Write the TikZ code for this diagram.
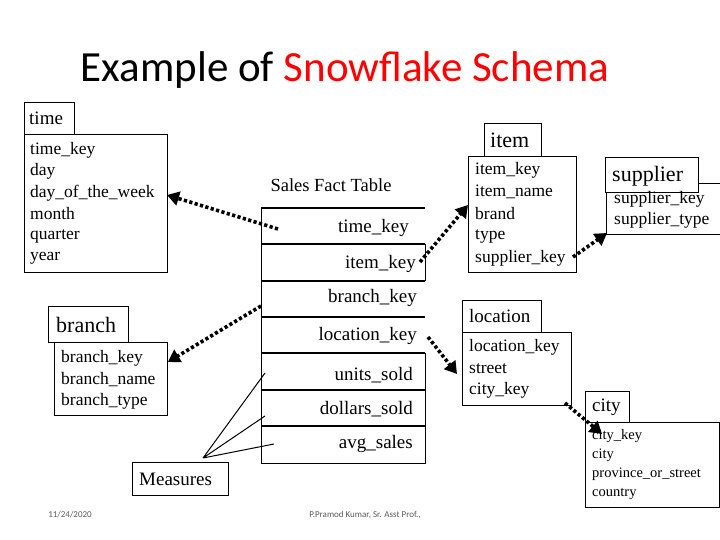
\documentclass[tikz,border=0pt]{standalone}
\usepackage{fontspec}
\setmainfont{Liberation Serif}
\newfontfamily\titlefont{Carlito}
\usetikzlibrary{arrows.meta}
\begin{document}
\begin{tikzpicture}[x=1pt,y=-1pt,
 box/.style={draw,line width=0.8pt,inner sep=0pt,anchor=north west},
 txt/.style={anchor=west,inner sep=0pt,font=\fontsize{17.5}{17.5}\selectfont},
 stxt/.style={anchor=west,inner sep=0pt,font=\fontsize{14.5}{14.5}\selectfont},
 ftxt/.style={anchor=east,inner sep=0pt,font=\fontsize{19}{19}\selectfont},
 link/.style={line width=3.6pt,dash pattern=on 3.2pt off 2.4pt,-{Triangle[width=14pt,length=12pt]}},
 meas/.style={line width=1pt}]
\useasboundingbox (0,0) rectangle (720,540);
\node[inner sep=0pt,font=\titlefont\fontsize{43}{43}\selectfont] (title) at (345,70) {Example of \textcolor{red}{Snowflake Schema}};
% time
\node[box,minimum width=50pt,minimum height=32pt] (timeL) at (24,102) {};
\node[txt,font=\fontsize{19}{19}\selectfont] (timeLt) at (29,118) {time};
\node[box,minimum width=143pt,minimum height=138pt] (timeT) at (24,134) {};
\foreach \t/\y [count=\i] in {time\_key/150,day/171,day\_of\_the\_week/193,month/214,quarter/236,year/258}
  \node[txt] (tt\i) at (30,\y) {\t};
% branch
\node[box,minimum width=80pt,minimum height=36pt] (brL) at (48,306) {};
\node[txt,font=\fontsize{22}{22}\selectfont] (brLt) at (56,325) {branch};
\node[box,minimum width=113pt,minimum height=73pt] (brT) at (54,342) {};
\foreach \t/\y [count=\i] in {branch\_key/358,branch\_name/380,branch\_type/401}
  \node[txt] (bt\i) at (61,\y) {\t};
% measures
\node[box,minimum width=96pt,minimum height=33pt] (meas) at (132,462) {};
\node[txt,font=\fontsize{19}{19}\selectfont] (meast) at (139,479) {Measures};
% fact table
\node[inner sep=0pt,font=\fontsize{18.5}{18.5}\selectfont] (factT) at (331,185) {Sales Fact Table};
\draw[line width=1pt] (261,208) -- (261,463) -- (425,463) -- (425,353) (425,281) -- (425,244);
\foreach \y in {208,244,281,317,353,390,426}
  \draw[line width=1.6pt] (261,\y) -- (425,\y);
\node[ftxt] (fk1) at (409,228) {time\_key};
\node[ftxt] (fk2) at (416,264) {item\_key};
\node[ftxt] (fk3) at (417,298) {branch\_key};
\node[ftxt] (fk4) at (417,336) {location\_key};
\node[ftxt] (fk5) at (413,375) {units\_sold};
\node[ftxt] (fk6) at (413,409) {dollars\_sold};
\node[ftxt] (fk7) at (413,444) {avg\_sales};
% item
\node[box,minimum width=57pt,minimum height=33pt] (itL) at (484,123) {};
\node[txt,font=\fontsize{22}{22}\selectfont] (itLt) at (490,140) {item};
\node[box,minimum width=108pt,minimum height=116pt] (itT) at (468,156) {};
\foreach \t/\y [count=\i] in {item\_key/170,item\_name/192,brand/214,type/236,supplier\_key/258}
  \node[txt] (it\i) at (475,\y) {\t};
% supplier
\draw[line width=0.8pt] (606,190) -- (606,234) -- (720,234) (698,183) -- (720,183);
\node[box,minimum width=93pt,minimum height=35pt,fill=white] (spL) at (605,157) {};
\node[txt,font=\fontsize{22}{22}\selectfont] (spLt) at (612,176) {supplier};
\node[txt] (sp1) at (614,199) {supplier\_key};
\node[txt] (sp2) at (614,220) {supplier\_type};
% location
\node[box,minimum width=79pt,minimum height=32pt] (loL) at (462,300) {};
\node[txt,font=\fontsize{19}{19}\selectfont] (loLt) at (469,316) {location};
\node[box,minimum width=109pt,minimum height=73pt] (loT) at (462,332) {};
\foreach \t/\y [count=\i] in {location\_key/347,street/369,city\_key/390}
  \node[txt] (lo\i) at (469,\y) {\t};
% city
\node[box,minimum width=44pt,minimum height=31pt] (ciL) at (585,391) {};
\node[txt,font=\fontsize{19}{19}\selectfont] (ciLt) at (592,407) {city};
\draw[line width=0.8pt] (585,422) rectangle (719,507);
\coordinate (ciT) at (602,434);
\foreach \t/\y [count=\i] in {city\_key/436,city/455,province\_or\_street/474,country/494}
  \node[stxt] (ci\i) at (592,\y) {\t};
% links
\draw[link] (278,229) -- (167,195);
\draw[link] (420,262) -- (468,205);
\draw[link] (261,306) -- (brT.east |- 0,362);
\draw[link] (428,337) -- (457,374);
\draw[link] (573,257) -- (607,233);
\draw[link] (565,403) -- (ciT);
% measures lines
\draw[meas] (203,458) -- (265,373) (203,458) -- (265,416) (203,458) -- (274,444);
% footer
\node[inner sep=0pt,font=\fontsize{9}{9}\selectfont\titlefont,text=gray!70!black] (date) at (70,515) {11/24/2020};
\node[inner sep=0pt,font=\fontsize{9}{9}\selectfont\titlefont,text=gray!70!black] (auth) at (365,515) {P.Pramod Kumar, Sr. Asst Prof.,};
\end{tikzpicture}
\end{document}
